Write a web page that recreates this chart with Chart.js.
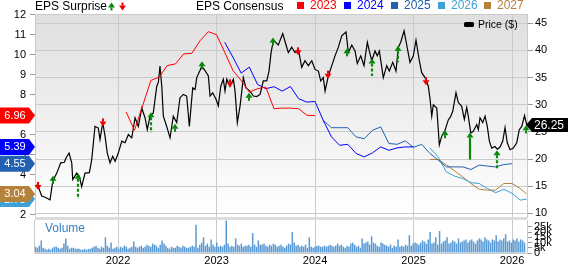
<!DOCTYPE html>
<html><head><meta charset="utf-8">
<script src="https://cdn.jsdelivr.net/npm/chart.js@4.4.1/dist/chart.umd.min.js"></script>
<style>
html,body{margin:0;padding:0;background:#fff;}
body{width:568px;height:264px;position:relative;overflow:hidden;font-family:"Liberation Sans",Arial,sans-serif;}
canvas{position:absolute;left:0;}
#main{top:0;}
#vol{top:220px;}
.t{position:absolute;white-space:nowrap;line-height:12px;font-size:12px;color:#000;}
.sq{position:absolute;width:7px;height:7px;top:2px;}
</style></head><body>
<canvas id="main" width="568" height="220"></canvas>
<canvas id="vol" width="568" height="44"></canvas>
<div class="t" style="left:35px;top:0px">EPS Surprise</div>
<div class="t" style="left:196px;top:0px">EPS Consensus</div>
<div class="sq" style="left:297px;background:#ff0000"></div><div class="t" style="left:310px;top:-1px;color:#ff0000">2023</div>
<div class="sq" style="left:344px;background:#0000ff"></div><div class="t" style="left:357px;top:-1px;color:#0000ff">2024</div>
<div class="sq" style="left:391px;background:#2160b2"></div><div class="t" style="left:404px;top:-1px;color:#2160b2">2025</div>
<div class="sq" style="left:438px;background:#3fa2d6"></div><div class="t" style="left:451px;top:-1px;color:#3fa2d6">2026</div>
<div class="sq" style="left:484px;background:#b4823a"></div><div class="t" style="left:497px;top:-1px;color:#b4823a">2027</div>
<div style="position:absolute;left:464px;top:22px;width:10px;height:5px;background:#000;border-radius:1.5px"></div>
<div class="t" style="left:478px;top:18px;font-size:10.5px">Price ($)</div>
<div class="t" style="left:45px;top:222px;color:#3a80c2">Volume</div>
<script>
// ---------------- DATA ----------------
const yearTicks = [2022, 2023, 2024, 2025, 2026];
const epsTicks = [2, 3, 4, 5, 6, 7, 8, 9, 10, 11, 12];
const priceTicks = [10, 15, 20, 25, 30, 35, 40, 45];
const volTicks = [0, 5, 10, 15, 20, 25];
const volTickLabels = ['0', '5k', '10k', '15k', '20k', '25k'];

// consensus EPS estimates (dates as decimal years)
const cons2023T = [2022.083, 2022.167, 2022.25, 2022.333, 2022.417, 2022.5, 2022.583, 2022.667, 2022.75, 2022.833, 2022.917, 2023.0, 2023.083, 2023.167, 2023.25, 2023.333, 2023.417, 2023.5, 2023.583, 2023.667, 2023.75, 2023.833, 2023.917, 2024.0];
const cons2023 = [7.13, 6.22, 7.45, 8.71, 8.88, 9.46, 9.54, 10.04, 10.07, 10.70, 11.15, 11.00, 10.12, 9.21, 8.71, 8.13, 8.30, 8.38, 7.30, 7.33, 7.33, 7.30, 6.97, 6.96];
const cons2024T = [2023.083, 2023.167, 2023.25, 2023.333, 2023.417, 2023.5, 2023.583, 2023.667, 2023.75, 2023.833, 2023.917, 2024.0, 2024.083, 2024.167, 2024.25, 2024.333, 2024.417, 2024.5, 2024.583, 2024.667, 2024.75, 2024.833, 2024.917, 2025.0];
const cons2024 = [10.62, 9.87, 9.08, 9.38, 8.51, 8.30, 8.40, 8.18, 8.41, 7.80, 7.63, 7.66, 6.72, 5.89, 5.47, 5.52, 5.06, 4.89, 5.09, 5.39, 5.22, 5.34, 5.39, 5.39];
const cons2025T = [2024.083, 2024.167, 2024.25, 2024.333, 2024.417, 2024.5, 2024.583, 2024.667, 2024.75, 2024.833, 2024.917, 2025.0, 2025.083, 2025.167, 2025.25, 2025.333, 2025.417, 2025.5, 2025.583, 2025.667, 2025.75, 2025.833, 2025.917, 2026.0];
const cons2025 = [6.72, 6.35, 6.35, 6.35, 5.89, 5.80, 6.22, 6.39, 5.56, 5.52, 5.69, 5.37, 5.52, 5.06, 4.73, 4.39, 4.39, 4.39, 4.26, 4.48, 4.43, 4.39, 4.51, 4.55];
const cons2026T = [2025.167, 2025.25, 2025.333, 2025.417, 2025.5, 2025.583, 2025.667, 2025.75, 2025.833, 2025.917, 2026.0, 2026.083, 2026.148];
const cons2026 = [5.34, 4.89, 4.14, 3.93, 3.81, 3.60, 3.56, 3.31, 3.10, 3.27, 3.07, 2.73, 2.78];
const cons2027T = [2025.167, 2025.25, 2025.333, 2025.417, 2025.5, 2025.583, 2025.667, 2025.75, 2025.833, 2025.917, 2026.0, 2026.083, 2026.148];
const cons2027 = [4.76, 4.76, 4.50, 4.19, 3.89, 3.56, 3.27, 3.23, 3.23, 3.56, 3.56, 3.31, 3.04];

// price ($)
const priceT = [2021.173, 2021.188, 2021.225, 2021.259, 2021.310, 2021.337, 2021.378, 2021.418, 2021.455, 2021.472, 2021.503, 2021.530, 2021.540, 2021.581, 2021.607, 2021.631, 2021.665, 2021.709, 2021.733, 2021.766, 2021.800, 2021.817, 2021.845, 2021.868, 2021.891, 2021.919, 2021.946, 2021.970,
 2022.003, 2022.038, 2022.071, 2022.105, 2022.139, 2022.173, 2022.206, 2022.241, 2022.274, 2022.297, 2022.325, 2022.358, 2022.393, 2022.409, 2022.426, 2022.444, 2022.460, 2022.494, 2022.528, 2022.561, 2022.596, 2022.629, 2022.663, 2022.697, 2022.724, 2022.758, 2022.782, 2022.799, 2022.832, 2022.850, 2022.883, 2022.917, 2022.934, 2022.961, 2022.995,
 2023.018, 2023.043, 2023.069, 2023.086, 2023.104, 2023.137, 2023.171, 2023.188, 2023.211, 2023.239, 2023.272, 2023.299, 2023.340, 2023.374, 2023.408, 2023.442, 2023.475, 2023.510, 2023.533, 2023.553, 2023.577, 2023.627, 2023.672, 2023.706, 2023.729, 2023.763, 2023.797, 2023.831, 2023.865, 2023.898, 2023.932, 2023.967,
 2024.000, 2024.034, 2024.058, 2024.084, 2024.102, 2024.135, 2024.170, 2024.203, 2024.237, 2024.271, 2024.315, 2024.338, 2024.373, 2024.406, 2024.429, 2024.464, 2024.497, 2024.531, 2024.551, 2024.576, 2024.609, 2024.632, 2024.653, 2024.693, 2024.728, 2024.754, 2024.789, 2024.822, 2024.846, 2024.870, 2024.904, 2024.931, 2024.964, 2024.998,
 2025.025, 2025.059, 2025.083, 2025.117, 2025.150, 2025.168, 2025.185, 2025.201, 2025.236, 2025.262, 2025.286, 2025.320, 2025.353, 2025.376, 2025.398, 2025.431, 2025.455, 2025.489, 2025.516, 2025.540, 2025.556, 2025.581, 2025.607, 2025.642, 2025.658, 2025.675, 2025.703, 2025.726, 2025.749, 2025.770, 2025.794, 2025.827, 2025.851, 2025.878, 2025.906, 2025.929, 2025.952, 2025.980,
 2026.013, 2026.048, 2026.074, 2026.099, 2026.127, 2026.150];
const priceV = [15.3, 15.0, 13.2, 12.96, 12.5, 15.9, 17.4, 19.3, 19.4, 20.2, 21.1, 19.3, 16.2, 17.4, 16.8, 14.9, 17.4, 17.5, 19.9, 26.0, 25.7, 23.6, 26.7, 24.2, 21.1, 19.3, 20.5, 19.6,
 21.1, 23.3, 23.0, 24.5, 23.9, 27.6, 26.0, 29.4, 27.6, 25.4, 27.9, 28.5, 33.4, 34.1, 37.1, 33.4, 27.9, 26.0, 23.9, 27.9, 26.7, 31.3, 31.9, 31.6, 26.0, 33.1, 32.8, 35.0, 36.3, 37.1, 36.3, 35.3, 31.6, 32.2, 31.0,
 29.8, 33.4, 34.7, 32.5, 34.7, 33.4, 34.7, 32.5, 26.7, 29.8, 35.0, 33.1, 32.5, 31.6, 31.5, 31.9, 34.4, 34.4, 36.2, 39.5, 41.9, 41.0, 43.1, 41.0, 39.6, 40.6, 39.6, 40.2, 36.9, 38.1, 37.2, 38.1,
 36.5, 36.2, 34.4, 35.0, 32.5, 35.3, 37.2, 39.0, 40.6, 42.7, 43.4, 39.6, 41.0, 39.9, 37.6, 39.0, 37.2, 41.5, 39.9, 38.1, 39.9, 39.0, 39.9, 35.0, 37.2, 36.2, 37.8, 36.2, 40.6, 41.5, 43.6, 41.0, 37.8, 39.0,
 41.9, 38.1, 35.9, 35.0, 33.4, 31.0, 27.9, 30.0, 29.4, 22.6, 24.2, 25.3, 27.2, 27.8, 28.8, 32.2, 30.4, 29.7, 27.3, 29.5, 27.9, 24.8, 25.1, 26.35, 25.4, 27.6, 26.7, 27.9, 26.0, 23.3, 22.0, 22.3, 21.8, 22.2, 23.3, 25.8, 23.0, 21.7,
 22.0, 23.0, 25.4, 26.0, 28.0, 26.25];

// EPS surprise markers (+1 beat, -1 miss); tip/tail in price units
const surpriseT = [2021.188, 2021.340, 2021.594, 2021.845, 2022.335, 2022.579, 2022.850, 2023.137, 2023.330, 2023.577, 2023.831, 2024.135, 2024.322, 2024.576, 2024.840, 2025.127, 2025.320, 2025.574, 2025.845, 2026.142];
const surpriseDir = [-1, 1, 1, -1, 1, 1, 1, -1, 1, 1, -1, -1, 1, 1, 1, -1, 1, 1, 1, 1];
const surpriseTip = [14.3, 16.9, 17.3, 26.0, 28.6, 26.5, 38.0, 33.2, 32.2, 42.4, 39.1, 34.8, 40.4, 38.5, 40.85, 33.6, 25.3, 24.9, 21.6, 26.2];
const surpriseTail = [null, null, 12.65, null, 24.9, null, null, null, null, null, null, null, null, 35.3, 37.8, null, null, 19.9, 18.15, null];
const surpriseDashed = [false, false, true, false, true, false, false, false, false, false, false, false, false, true, true, false, false, false, true, false];

// weekly volume (thousands), starting first week of March 2021
const volStartT = 2021.163;
const volWeekStep = 7 / 365.25;
const volK = [
 6, 5, 7, 12, 5, 4, 3, 4, 3, 5, 6, 6, 5,
 4, 5, 9, 14, 7, 4, 5, 5, 4, 4, 4, 3, 3,
 4, 3, 4, 4, 5, 6, 7, 5, 4, 6, 5, 15, 7,
 5, 10, 4, 5, 6, 4, 6, 5, 7, 6, 4, 5, 6,
 11, 6, 5, 6, 7, 5, 6, 8, 7, 6, 9, 8, 7,
 5, 8, 12, 9, 7, 5, 4, 6, 5, 5, 7, 6, 5,
 7, 6, 5, 5, 6, 7, 6, 27, 5, 8, 10, 15, 7,
 9, 6, 13, 8, 6, 10, 6, 7, 6, 8, 31, 9, 6,
 7, 6, 14, 8, 7, 9, 6, 7, 7, 8, 6, 19, 8,
 6, 12, 8, 8, 9, 7, 6, 8, 7, 9, 8, 6, 7,
 8, 6, 5, 7, 9, 8, 20, 10, 7, 8, 6, 7, 6,
 8, 5, 15, 6, 5, 6, 7, 7, 6, 6, 7, 6, 7,
 8, 7, 6, 7, 9, 7, 8, 6, 5, 7, 6, 9, 10,
 8, 6, 7, 5, 14, 9, 10, 11, 8, 16, 10, 9, 7,
 6, 10, 9, 8, 7, 6, 8, 5, 7, 6, 13, 6, 7,
 6, 8, 7, 17, 7, 9, 10, 9, 8, 10, 12, 11, 9,
 13, 20, 9, 10, 15, 8, 21, 9, 11, 12, 15, 9, 10,
 12, 11, 9, 14, 10, 11, 12, 13, 10, 12, 13, 11, 9,
 12, 14, 13, 11, 15, 13, 12, 10, 13, 12, 17, 11, 13,
 12, 14, 18, 11, 12, 10, 13, 12, 14, 11, 13, 12, 10];

// ---------------- STYLE ----------------
const FONT = '"Liberation Sans", Arial, sans-serif';
const X_MIN = 2021.157, X_MAX = 2026.152;
const C23 = '#ff0000', C24 = '#0000ff', C25 = '#2160b2', C26 = '#3fa2d6', C27 = '#b4823a';
const GREEN = '#0a870a', RED = '#f00000';
const GRID = '#cacaca';
const pts = (ts, vs) => ts.map((t, i) => ({x: t, y: vs[i]}));
const setTicks = list => s => { s.ticks = list.map(v => ({value: v})); };

function drawArrow(ctx, x, yTip, dir, yTail, dashed, color) {
  // dir +1: arrow points up (tip on top); -1: points down
  const hw = 3.5, hh = 5;
  const yBase = yTip + dir * hh;
  ctx.save();
  ctx.fillStyle = color; ctx.strokeStyle = color;
  ctx.beginPath();
  ctx.moveTo(x, yTip); ctx.lineTo(x - hw, yBase); ctx.lineTo(x + hw, yBase); ctx.closePath(); ctx.fill();
  if (yTail == null) {
    const yEnd = yBase + dir * 3;
    ctx.fillRect(x - 1, Math.min(yBase, yEnd), 2, Math.abs(yEnd - yBase));
  } else {
    ctx.lineWidth = 2.2;
    if (dashed) ctx.setLineDash([3, 2]);
    ctx.beginPath(); ctx.moveTo(x, yBase); ctx.lineTo(x, yTail); ctx.stroke();
  }
  ctx.restore();
}

const mainOverlay = {
  id: 'mainOverlay',
  beforeDraw(chart) {
    const {ctx, chartArea: a} = chart;
    const g = ctx.createLinearGradient(0, a.top, 0, a.bottom);
    g.addColorStop(0, '#dfdfdf'); g.addColorStop(1, '#ffffff');
    ctx.save(); ctx.fillStyle = g; ctx.fillRect(a.left, a.top, a.right - a.left, a.bottom - a.top); ctx.restore();
  },
  afterDatasetsDraw(chart) {
    const {ctx} = chart; const xs = chart.scales.x, ys = chart.scales.yPrice;
    surpriseT.forEach((t, i) => {
      const x = Math.round(xs.getPixelForValue(t));
      const tail = surpriseTail[i] == null ? null : ys.getPixelForValue(surpriseTail[i]);
      drawArrow(ctx, x, ys.getPixelForValue(surpriseTip[i]), surpriseDir[i], tail, surpriseDashed[i], surpriseDir[i] > 0 ? GREEN : RED);
    });
  },
  afterDraw(chart) {
    const {ctx, chartArea: a} = chart;
    ctx.save();
    ctx.fillStyle = GRID; ctx.fillRect(a.left, a.top, a.right - a.left, 1);
    ctx.fillStyle = '#dcdcdc'; ctx.fillRect(a.left, a.bottom, a.right - a.left, 3);
    // left badges (latest consensus)
    const ye = chart.scales.yEps;
    [[cons2023, C23], [cons2024, C24], [cons2025, C25], [cons2026, C26], [cons2027, C27]].forEach(([arr, col]) => {
      const v = arr[arr.length - 1]; const y = ye.getPixelForValue(v);
      ctx.fillStyle = col;
      ctx.beginPath(); ctx.moveTo(0, y - 8); ctx.lineTo(29, y - 8); ctx.lineTo(35, y); ctx.lineTo(29, y + 8); ctx.lineTo(0, y + 8); ctx.closePath(); ctx.fill();
      ctx.fillStyle = '#fff'; ctx.font = '11px ' + FONT; ctx.textAlign = 'center'; ctx.textBaseline = 'middle';
      ctx.fillText(v.toFixed(2), 15, y + 0.5);
    });
    // right price badge
    const yp = chart.scales.yPrice; const p = priceV[priceV.length - 1]; const y = yp.getPixelForValue(p);
    ctx.fillStyle = '#000';
    ctx.beginPath(); ctx.moveTo(526, y); ctx.lineTo(532, y - 7); ctx.lineTo(568, y - 7); ctx.lineTo(568, y + 7); ctx.lineTo(532, y + 7); ctx.closePath(); ctx.fill();
    ctx.fillStyle = '#fff'; ctx.font = '12px ' + FONT; ctx.textAlign = 'center'; ctx.textBaseline = 'middle';
    ctx.fillText(p.toFixed(2), 549, y + 0.5);
    ctx.restore();
    // legend icons
    drawArrow(ctx, 111.5, 2.5, 1, null, false, GREEN);
    drawArrow(ctx, 122.5, 10.5, -1, null, false, RED);
  }
};

const tickFont = {family: FONT, size: 11};
const line = (data, color, axis, w) => ({data, borderColor: color, borderWidth: w, yAxisID: axis, pointRadius: 0, fill: false, tension: 0});

new Chart(document.getElementById('main'), {
  type: 'line',
  data: {datasets: [
    line(pts(cons2023T, cons2023), C23, 'yEps', 1),
    line(pts(cons2024T, cons2024), C24, 'yEps', 1),
    line(pts(cons2025T, cons2025), C25, 'yEps', 1),
    line(pts(cons2026T, cons2026), C26, 'yEps', 1),
    line(pts(cons2027T, cons2027), C27, 'yEps', 1),
    line(pts(priceT, priceV), '#000', 'yPrice', 1.2)
  ]},
  options: {
    responsive: false, animation: false, devicePixelRatio: 1,
    layout: {padding: {left: 0, right: 0, top: 14, bottom: 3}},
    plugins: {legend: {display: false}, tooltip: {enabled: false}},
    scales: {
      x: {type: 'linear', min: X_MIN, max: X_MAX, afterBuildTicks: setTicks(yearTicks),
          ticks: {display: false}, grid: {color: GRID, drawTicks: false}, border: {display: false},
          afterFit: s => { s.height = 0; s.paddingLeft = 0; s.paddingRight = 0; }},
      yEps: {position: 'left', min: 1.885, max: 12.035, afterBuildTicks: setTicks(epsTicks),
          ticks: {font: tickFont, color: '#000', padding: 4, autoSkip: false, callback: v => String(v)},
          grid: {drawOnChartArea: false, tickLength: 5, tickColor: '#999'}, border: {color: GRID},
          afterFit: s => { s.width = 35; s.paddingTop = 0; s.paddingBottom = 0; }},
      yPrice: {position: 'right', min: 9.32, max: 46.71, afterBuildTicks: setTicks(priceTicks),
          ticks: {font: tickFont, color: '#000', padding: 2, autoSkip: false, callback: v => String(v)},
          grid: {color: GRID, tickLength: 6, tickColor: '#999'}, border: {color: GRID},
          afterFit: s => { s.width = 41; s.paddingTop = 0; s.paddingBottom = 0; }}
    }
  },
  plugins: [mainOverlay]
});

const volPts = volK.map((v, i) => ({x: volStartT + i * volWeekStep, y: v}));
new Chart(document.getElementById('vol'), {
  type: 'bar',
  data: {datasets: [{data: volPts, backgroundColor: '#5b9bd5', borderWidth: 0, barPercentage: 0.8, categoryPercentage: 1, yAxisID: 'yVol'}]},
  options: {
    responsive: false, animation: false, devicePixelRatio: 1,
    layout: {padding: {left: 35, right: 0, top: 0, bottom: 0}},
    plugins: {legend: {display: false}, tooltip: {enabled: false}},
    scales: {
      x: {type: 'linear', offset: false, min: X_MIN, max: X_MAX, afterBuildTicks: setTicks(yearTicks),
          ticks: {font: tickFont, color: '#000', padding: 1, autoSkip: false, maxRotation: 0, callback: v => String(v)},
          grid: {color: GRID, drawTicks: false, offset: false}, border: {color: GRID},
          afterFit: s => { s.height = 11; s.paddingLeft = 0; s.paddingRight = 0; }},
      yVol: {position: 'right', min: 0, max: 31.6, afterBuildTicks: setTicks(volTicks),
          ticks: {font: tickFont, color: '#000', padding: 2, autoSkip: false, callback: (v, i) => volTickLabels[i]},
          grid: {drawOnChartArea: false, tickLength: 5, tickColor: '#999'}, border: {color: GRID},
          afterFit: s => { s.width = 41; s.paddingTop = 0; s.paddingBottom = 0; }}
    }
  },
  plugins: [{id: 'volBorder', afterDraw(chart) {
    const {ctx, chartArea: a} = chart; ctx.save(); ctx.fillStyle = GRID; ctx.fillRect(a.left - 1, a.top, 1, a.bottom - a.top); ctx.restore();
  }}]
});
</script>
</body></html>
